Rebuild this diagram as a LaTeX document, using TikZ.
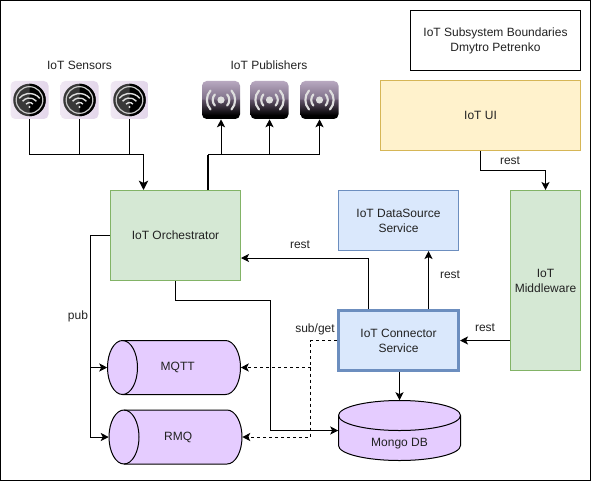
\documentclass[tikz,border=0pt]{standalone}
\usepackage{fontspec}
\setmainfont{Liberation Sans}
\usetikzlibrary{arrows.meta}
\definecolor{gfill}{HTML}{D5E8D4}\definecolor{gline}{HTML}{82B366}
\definecolor{bfill}{HTML}{DAE8FC}\definecolor{bline}{HTML}{6C8EBF}
\definecolor{yfill}{HTML}{FFF2CC}\definecolor{yline}{HTML}{D6B656}
\definecolor{pfill}{HTML}{E5CCFF}
\definecolor{ink}{HTML}{222222}
\definecolor{tileL}{HTML}{EFE7F3}\definecolor{tileR}{HTML}{E3D6EA}
\definecolor{glyph}{HTML}{DEDEDE}
\definecolor{pubA}{HTML}{B8A8C0}\definecolor{pubB}{HTML}{80728A}\definecolor{pubC}{HTML}{5F5166}
\pgfdeclareverticalshading{pubshade}{100bp}{
 color(0bp)=(black); color(30bp)=(black);
 color(50bp)=(pubC); color(52bp)=(pubB);
 color(75bp)=(pubA); color(100bp)=(pubA)}
\tikzset{
 x=0.75pt,y=-0.75pt,
 every node/.style={font=\fontsize{9}{11.25}\selectfont,text=ink,align=center,inner sep=0pt},
 conn/.style={draw=black,line width=0.75pt,-{Stealth[length=6pt,width=6pt,inset=1.5pt]}},
 plain/.style={draw=black,line width=0.75pt},
 dashconn/.style={conn,dash pattern=on 2.25pt off 2.25pt},
 dashplain/.style={plain,dash pattern=on 2.25pt off 2.25pt},
 thickconn/.style={draw=black,line width=1.1pt,-{Stealth[length=7pt,width=7pt,inset=1.7pt]}},
 sensor/.style={minimum width=28.5pt,minimum height=28.5pt,rounded corners=3.5pt,left color=tileL,right color=tileR},
 publisher/.style={minimum width=28.5pt,minimum height=28.5pt,rounded corners=3.5pt,shading=pubshade},
 rectbox/.style 2 args={draw=#1,fill=#2,line width=0.75pt,rectangle},
 cyl/.style={draw=black,fill=pfill,line width=0.75pt},
}
\newcommand{\sensorglyph}[1]{
 \begin{scope}[shift={(#1)}]
  \fill[black!78] (0,0) circle (12.2pt);
  \fill[black] (0,-16.3) arc[start angle=90,end angle=-90,radius=12.2pt] -- cycle;
  \draw[black!22,line width=0.9pt] (0,0) circle (10pt);
  \foreach \r in {4.5,9,13.5}{
   \draw[glyph,line width=1.05pt] ([shift={(40:\r*0.75pt)}]0,7) arc[start angle=40,end angle=140,radius=\r*0.75pt];}
  \fill[glyph] (0,7) circle (0.9pt);
 \end{scope}}
\newcommand{\pubglyph}[1]{
 \begin{scope}[shift={(#1)}]
  \fill[glyph] (0,0) circle (2.7pt);
  \foreach \r in {6.2,10.6}{
   \draw[glyph,line width=1.6pt,line cap=round] (-42:\r pt) arc[start angle=-42,end angle=42,radius=\r pt];
   \draw[glyph,line width=1.6pt,line cap=round] (138:\r pt) arc[start angle=138,end angle=222,radius=\r pt];}
 \end{scope}}
% horizontal cylinder: left, right, top, bottom (px)
\newcommand{\hcyl}[4]{
 \path[cyl] (#1+15,#3) -- (#2-15,#3) arc[start angle=90,end angle=-90,x radius=11.25pt,y radius={(#4-#3)*0.375pt}]
  -- (#1+15,#4) arc[start angle=270,end angle=90,x radius=11.25pt,y radius={(#4-#3)*0.375pt}] -- cycle;
 \draw[line width=0.75pt] (#1+15,#3) arc[start angle=90,end angle=-90,x radius=11.25pt,y radius={(#4-#3)*0.375pt}];
}
\begin{document}
\begin{tikzpicture}
\useasboundingbox (0,0) rectangle (591,481);
\draw[black,line width=0.75pt] (0.5,0.5) rectangle (590,480);
\node[rectbox={black}{white},minimum width=127.5pt,minimum height=45pt] (title) at (495.5,40.5) {IoT Subsystem Boundaries\\Dmytro Petrenko};
% tiles
\node[sensor] (s1) at (29.5,100) {};
\node[sensor] (s2) at (79.5,100) {};
\node[sensor] (s3) at (129.5,100) {};
\node[publisher] (p1) at (221,100) {};
\node[publisher] (p2) at (269.5,100) {};
\node[publisher] (p3) at (319.5,100) {};
\sensorglyph{s1.center}\sensorglyph{s2.center}\sensorglyph{s3.center}
\pubglyph{p1.center}\pubglyph{p2.center}\pubglyph{p3.center}
\node (sl) at (79.5,65) {IoT Sensors};
\node (pl) at (269,65) {IoT Publishers};
% boxes
\node[rectbox={gline}{gfill},minimum width=97.5pt,minimum height=67.5pt] (orch) at (175.5,235.5) {IoT Orchestrator};
\node[rectbox={bline}{bfill},minimum width=90pt,minimum height=45pt] (ds) at (398.5,220.5) {IoT DataSource\\Service};
\node[rectbox={yline}{yfill},minimum width=150pt,minimum height=52.5pt] (ui) at (480.5,115.5) {IoT UI};
\node[rectbox={gline}{gfill},minimum width=52.5pt,minimum height=135pt] (mw) at (545.5,280.5) {IoT\\Middleware};
\node[rectbox={bline}{bfill},line width=2.25pt,minimum width=90pt,minimum height=45pt] (conn) at (398.5,340.5) {IoT Connector\\Service};
% cylinders
\hcyl{107.5}{240.5}{340.5}{394.5}
\node[minimum width=99.75pt,minimum height=40.5pt] (mqtt) at (174,367.5) {\hspace{5.5pt}MQTT};
\hcyl{109}{242}{410}{464}
\node[minimum width=99.75pt,minimum height=40.5pt] (rmq) at (175.5,437) {\hspace{4pt}RMQ};
\path[cyl] (338.5,415.5) arc[start angle=180,end angle=0,x radius=45.75pt,y radius=11.25pt] -- (460.5,445.5)
  arc[start angle=0,end angle=-180,x radius=45.75pt,y radius=11.25pt] -- cycle;
\draw[line width=0.75pt] (338.5,415.5) arc[start angle=-180,end angle=0,x radius=45.75pt,y radius=11.25pt];
\node[minimum width=91.5pt,minimum height=45pt,text height=24.4pt,text depth=0pt] (mongo) at (399.5,430.5) {Mongo DB};
% coordinates
\coordinate (sj) at (143.5,154.5);
\coordinate (pj) at (208,154.5);
\coordinate (oa) at (90.5,235.5);
\coordinate (ob) at (90.5,367.5);
\coordinate (od) at (270.5,300.5);
\coordinate (oc) at (175.5,300.5);
\coordinate (ra) at (368.5,258);
\coordinate (da) at (428.5,280);
\coordinate (k) at (310.5,367.5);
\coordinate (ua) at (480.5,170.5);
\coordinate (ub) at (545.5,170.5);
% connectors
\draw[plain] (s1.south) |- (sj);
\draw[plain] (s2.south) -- (s2.south |- sj);
\draw[plain] (s3.south) -- (s3.south |- sj);
\draw[thickconn] (sj) -- (sj |- orch.north);
\draw[line width=1.1pt,draw=black] (pj |- orch.north) -- (pj);
\draw[conn] (pj) -| (p1.south);
\draw[conn] (pj) -| (p2.south);
\draw[conn] (pj) -| (p3.south);
\draw[plain] (orch.west) -- (oa) -- (ob);
\draw[conn] (ob) -- (mqtt.west);
\draw[conn] (ob) |- (rmq.west);
\node (pub) at (78,316) {pub};
\draw[plain] (orch.south) -- (oc) -- (od);
\draw[conn] (od) |- (mongo.west);
\draw[conn] (ra |- conn.north) -- (ra) -- (ra -| orch.east);
\node (r1) at (300,245) {rest};
\draw[conn] (da |- conn.north) -- (da |- ds.south);
\node (r2) at (450,275) {rest};
\draw[conn] (mw.west |- conn.east) -- (conn.east);
\node (r3) at (485,328) {rest};
\draw[conn] (mongo.north |- conn.south) -- (mongo.north);
\draw[dashplain] (conn.west) -| (k);
\draw[dashconn] (k) -- (mqtt.east);
\draw[dashconn] (k) |- (rmq.east);
\node (sg) at (315,329) {sub/get};
\draw[conn] (ui.south) -- (ua) -- (ub) -- (mw.north);
\node (r4) at (510,161) {rest};
\end{tikzpicture}
\end{document}
